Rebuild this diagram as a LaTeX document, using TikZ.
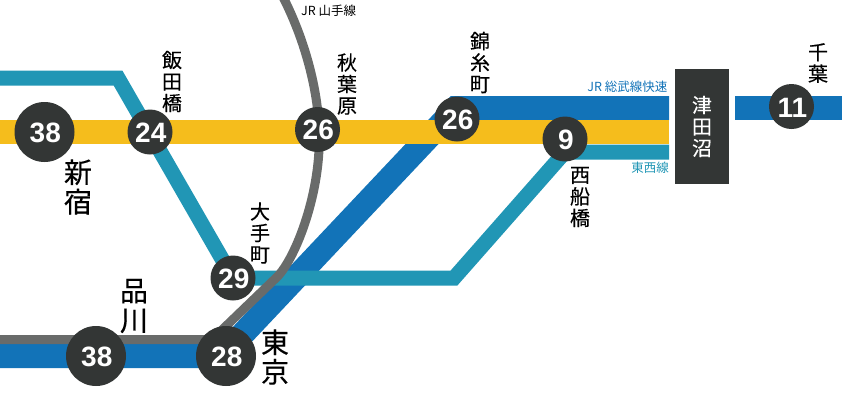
\documentclass[tikz,border=0pt]{standalone}
\usepackage{fontspec}
\setmainfont{Liberation Sans}
\newfontfamily\cjk{Noto Sans CJK JP}
\newfontfamily\cjkb[FakeBold=0.35]{Noto Sans CJK JP}
\pgfdeclarelayer{fg}
\pgfsetlayers{main,fg}
\definecolor{cblue}{HTML}{1273B8}
\definecolor{cyel}{HTML}{F5BD1C}
\definecolor{cteal}{HTML}{2196B5}
\definecolor{cgray}{HTML}{696B6A}
\definecolor{cdark}{HTML}{333635}
\tikzset{
  stn/.style={circle,fill=cdark,text=white,inner sep=0pt,minimum size=#1,text height=21pt,execute at begin node=\kern1.6pt,font=\bfseries\fontsize{28}{28}\selectfont},
  lbl/.style={align=center,inner sep=0pt,text=black,font=\cjkb\fontsize{20}{21.5}\selectfont},
  lblbig/.style={align=center,inner sep=0pt,text=black,font=\cjkb\fontsize{28}{29.5}\selectfont},
  small/.style={inner sep=0pt,font=\cjk\fontsize{12.5}{13}\selectfont},
  band/.style={line width=#1,line cap=butt,line join=miter},
}
\begin{document}
\begin{tikzpicture}[x=1pt,y=-1pt]
\useasboundingbox (0,0) rectangle (842,410);
\begin{pgfonlayer}{fg}
\node[stn=60pt] (s38a) at (44.5,132) {38};
\node[stn=45pt] (s24) at (150,132) {24};
\node[stn=45pt] (s26a) at (317.5,129.5) {26};
\node[stn=45pt] (s26b) at (457,119) {26};
\node[stn=45pt] (s9) at (565,139) {9};
\node[stn=45pt] (s11) at (791.5,106.5) {11};
\node[stn=45pt] (s29) at (233,278) {29};
\node[stn=60pt] (s38b) at (96,356) {38};
\node[stn=60pt] (s28) at (226,356) {28};
\node[fill=cdark,text=white,inner sep=0pt,minimum width=54pt,minimum height=115pt,align=center,font=\cjkb\fontsize{20}{21.5}\selectfont] (tsuda) at (702,126.5) {津\\田\\沼};
\end{pgfonlayer}
% named ends and bends
\coordinate (bL) at (0,356);
\coordinate (bB1) at (222,356);
\coordinate (bB2) at (456,108);
\coordinate (bR2a) at (735,108);
\coordinate (bR2b) at (842,108);
\coordinate (yL) at (0,132);
\coordinate (yR) at (669,132);
\coordinate (tL) at (0,78);
\coordinate (tB1) at (118,78);
\coordinate (tB2) at (454,278);
\coordinate (tB3) at (565,152);
\coordinate (tR) at (669,152);
\coordinate (gT) at (283,-3);
\coordinate (gM) at (319,130);
\coordinate (gB) at (277,277);
\coordinate (gC) at (212,339.5);
\coordinate (gL) at (0,339.5);
% lines
\draw[cblue,band=24pt] (bL) -- (bB1) -- (bB2) -- (669,108);
\draw[cblue,band=24pt] (bR2a) -- (bR2b);
\draw[cyel,band=24pt] (yL) -- (yR);
\draw[cteal,band=15pt] (tL) -- (tB1) -- (s29.center) -- (tB2) -- (tB3) -- (tR);
\draw[cgray,band=9pt] (gL) -- (gC) -- (gB) .. controls (296,258) and (322,190) .. (gM) .. controls (318,90) and (305,40) .. (gT);
% labels
\node[lbl] (l1) at (172,81.5) {飯\\田\\橋};
\node[lbl] (l2) at (347,84) {秋\\葉\\原};
\node[lbl] (l3) at (480,62.5) {錦\\糸\\町};
\node[lbl] (l4) at (818,63) {千\\葉};
\node[lbl] (l5) at (580,197) {西\\船\\橋};
\node[lbl] (l6) at (260,233) {大\\手\\町};
\node[lblbig] (l7) at (78,187) {新\\宿};
\node[lblbig] (l8) at (134,306) {品\\川};
\node[lblbig] (l9) at (275,357) {東\\京};
\node[small,anchor=west] (n1) at (301,11) {JR 山手線};
\node[small,anchor=east,text=cblue] (n2) at (667.5,87) {JR 総武線快速};
\node[small,anchor=east,text=cteal] (n3) at (669,168) {東西線};
\end{tikzpicture}
\end{document}
